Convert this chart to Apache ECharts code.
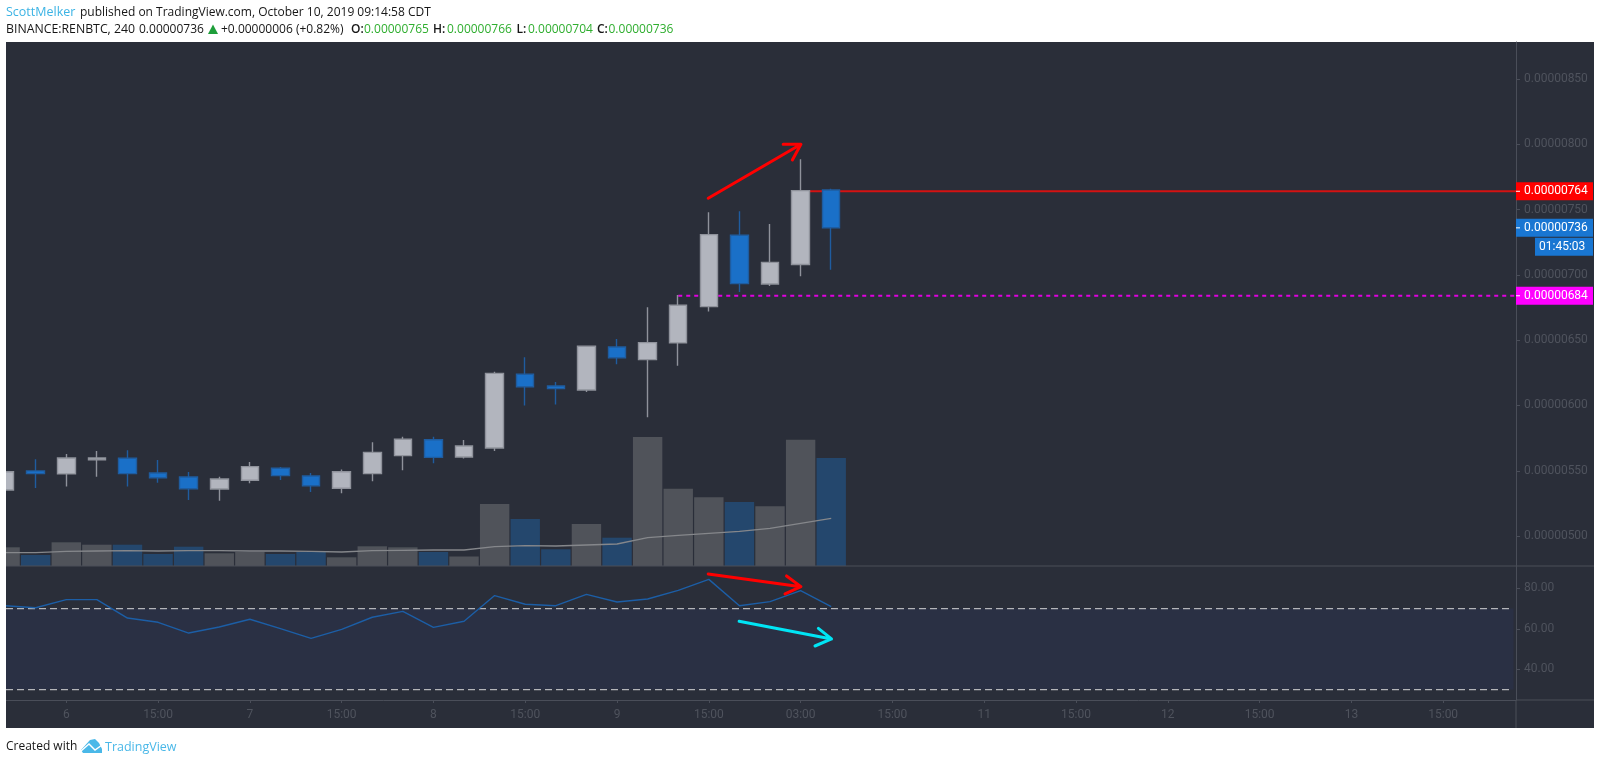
<!DOCTYPE html>
<html><head><meta charset="utf-8">
<style>html,body{margin:0;padding:0;background:#fff}#c{width:1600px;height:764px}</style>
<script src="https://cdn.jsdelivr.net/npm/echarts@6/dist/echarts.min.js"></script>
</head><body><div id="c"></div>
<script>
// bar position, counted in 4h bars from the "6" tick
const barIndex=[-2,-1,0,1,2,3,4,5,6,7,8,9,10,11,12,13,14,15,16,17,18,19,20,21,22,23,24,25];
// prices in 1e-8 BTC
const opens =[535.3,549.9,547.6,558.5,559.6,548.3,545.3,536.1,542.7,551.9,546,536.6,547.8,561.6,573.8,560.5,567.5,623.9,614.9,611.9,644.8,635.1,647.9,675.7,730.3,693,707.9,765];
const closes=[549.3,547.8,559.8,559.8,547.8,544.7,536.3,543.7,553.2,546.3,538.6,549.3,564.1,574.1,560.3,569,624.6,614.4,612.9,645.3,636.6,648.1,676.7,730.8,693.3,709.6,764.5,736];
const lows  =[535,536.8,537.9,545.5,537.9,540.9,527.7,527.1,540.4,543,533.8,532.8,541.9,550.4,555.7,559.4,565.2,599.9,600.7,610.4,631.5,591,630.5,671.9,686.9,691.5,698.9,704];
const highs =[550,558.8,562.9,565.2,565.7,558.3,549.1,545.5,556.7,552.9,548.3,550.9,571.8,576.1,576.1,573.6,625.9,636.9,618,645.3,650.9,675.2,684.6,747.9,748.7,739,788.5,766];
const volumes=[18.7,11,23.7,21.3,21.3,12,19.3,12.7,14,12,14,8.7,19.7,18.7,14,9.5,62,47,16.7,42,28.3,129,77.3,68.7,64,59.7,126.3,108];
const volumeMA=[13.3,13.3,14.7,15,15.3,15,15.3,15.3,15,15,14.7,14,15.3,15.7,16,16,19.3,20.3,20,21,22,28.3,30.7,32.7,34.7,37.7,42.7,47.7];
const rsi=[71.4,70.4,74.4,74.4,65.3,63.2,57.9,60.9,64.7,60.1,55.3,59.7,65.7,68.6,60.7,63.7,76.4,72.1,71.4,77,73.2,74.7,79,84.4,71.4,73.4,78.8,70.9];
const timeTicks=[0,3,6,9,12,15,18,21,24,27,30,33,36,39,42,45];
const timeLabels=['6','15:00','7','15:00','8','15:00','9','15:00','03:00','15:00','11','15:00','12','15:00','13','15:00'];
const priceTicks=[500,550,600,650,700,750,800,850];
const rsiTicks=[40,60,80];
const resistance=764, support=684, lastPrice=736;
const arrowUp=[[20.98,758.7],[24.01,800],[23.43,800],[24.01,800],[23.73,788]];
const arrowRsiRed=[[20.98,87.06],[24.01,80.8],[23.54,86.1],[24.01,80.8],[23.49,77.2]];
const arrowRsiCyan=[[21.99,63.7],[25.01,55],[24.58,60.2],[25.01,55],[24.47,51.5]];

const XMIN=-1.97,XMAX=47.38;
const UP='#b2b5be',UPB='#8f929b',DN='#1a70c8',DNB='#1f5c9f',AX='#4a4e59',TXT='#4f535d';
const chart=echarts.init(document.getElementById('c'),null,{renderer:'canvas'});
const FONT='Roboto';
const candle=barIndex.map((k,i)=>[k,opens[i],closes[i],lows[i],highs[i]]);
const pair=(arr)=>barIndex.map((k,i)=>[k,arr[i]]);
const volData=barIndex.map((k,i)=>({value:[k,volumes[i]],itemStyle:{color:closes[i]>=opens[i]?'#50535a':'#24476d'}}));
const arrow=(data,color,xi,yi)=>({type:'line',xAxisIndex:xi,yAxisIndex:yi,data,symbol:'none',z:8,silent:true,lineStyle:{color,width:3,cap:'round',join:'round'},animation:false});

chart.setOption({
 animation:false,backgroundColor:'#fff',
 grid:[{left:6,width:1510,top:42,height:524},{left:6,width:1510,top:566,height:134}],
 xAxis:[
  {type:'value',gridIndex:0,min:XMIN,max:XMAX,show:false,splitLine:{show:false}},
  {type:'value',gridIndex:1,min:XMIN,max:XMAX,splitLine:{show:false},
   axisLine:{show:true,onZero:false,lineStyle:{color:AX}},
   axisTick:{show:true,length:3,lineStyle:{color:AX},customValues:timeTicks},
   axisLabel:{color:TXT,fontFamily:FONT,fontSize:12,margin:9,customValues:timeTicks,showMinLabel:true,showMaxLabel:true,
     formatter:v=>timeLabels[timeTicks.indexOf(v)]||''}}
 ],
 yAxis:[
  {type:'value',gridIndex:0,position:'right',min:477.1,max:878.3,splitLine:{show:false},scale:true,
   axisLine:{show:true,onZero:false,lineStyle:{color:AX}},
   axisTick:{show:true,length:4,lineStyle:{color:AX},customValues:priceTicks},
   axisLabel:{color:TXT,fontFamily:FONT,fontSize:12,margin:8,customValues:priceTicks,formatter:v=>(v/1e8).toFixed(8)}},
  {type:'value',gridIndex:0,min:0,max:524,show:false,splitLine:{show:false}},
  {type:'value',gridIndex:1,position:'right',min:24.84,max:91,splitLine:{show:false},scale:true,
   axisLine:{show:true,onZero:false,lineStyle:{color:AX}},
   axisTick:{show:true,length:4,lineStyle:{color:AX},customValues:rsiTicks},
   axisLabel:{color:TXT,fontFamily:FONT,fontSize:12,margin:8,customValues:rsiTicks,formatter:v=>v.toFixed(2)}}
 ],
 series:[
  {type:'bar',name:'Volume',xAxisIndex:0,yAxisIndex:1,data:volData,barWidth:29.4,z:2,clip:true},
  {type:'line',name:'Volume MA',xAxisIndex:0,yAxisIndex:1,data:pair(volumeMA),symbol:'none',z:3,lineStyle:{color:'#85878b',width:1.3}},
  {type:'candlestick',name:'RENBTC',xAxisIndex:0,yAxisIndex:0,data:candle,encode:{x:0,y:[1,2,3,4]},barWidth:18,z:5,clip:true,
   itemStyle:{color:UP,color0:DN,borderColor:UPB,borderColor0:DNB,borderWidth:1.4}},
  {type:'line',name:'Resistance',xAxisIndex:0,yAxisIndex:0,data:[[24.01,resistance],[XMAX,resistance]],symbol:'none',z:4,lineStyle:{color:'#d41212',width:2}},
  {type:'line',name:'Support',xAxisIndex:0,yAxisIndex:0,data:[[20,support],[XMAX,support]],symbol:'none',z:4,lineStyle:{color:'#e000e0',width:2,type:[4,4]}},
  {type:'line',name:'RSI',xAxisIndex:1,yAxisIndex:2,data:pair(rsi),symbol:'none',z:5,lineStyle:{color:'#1c5ea6',width:1.4},
   markArea:{silent:true,itemStyle:{color:'#2a3044'},data:[[{xAxis:XMIN,yAxis:70},{xAxis:47.3,yAxis:30}]]}},
  {type:'line',name:'RSI upper',xAxisIndex:1,yAxisIndex:2,data:[[XMIN,70],[47.22,70]],symbol:'none',z:4,lineStyle:{color:'#b4b5b9',width:1.2,type:[7,4]}},
  {type:'line',name:'RSI lower',xAxisIndex:1,yAxisIndex:2,data:[[XMIN,30],[47.22,30]],symbol:'none',z:4,lineStyle:{color:'#b4b5b9',width:1.2,type:[7,4]}},
  arrow(arrowUp,'#ff0000',0,0),
  arrow(arrowRsiRed,'#ff0000',1,2),
  arrow(arrowRsiCyan,'#00e5f5',1,2)
 ]
});

const yPrice=v=>chart.convertToPixel({yAxisIndex:0},v);
function tag(v,color,extra){
 const y=yPrice(v);
 return [
  {type:'rect',z:20,shape:{x:1516,y:y-9,width:77,height:18},style:{fill:color}},
  {type:'line',z:21,shape:{x1:1516,y1:y,x2:1520,y2:y},style:{stroke:'#fff',lineWidth:1}},
  {type:'text',z:21,x:1524,y:y,style:{text:(v/1e8).toFixed(8),fill:'#fff',font:'12px '+FONT,textVerticalAlign:'middle'}}
 ];
}
const head=(x,y,text,fill,weight,size)=>({type:'text',z:30,x,y,style:{text,fill,font:(weight||'normal')+' '+(size||12)+'px "Open Sans"',textVerticalAlign:'middle'}});
const black='#161616',green='#2fae2f',by=29.5;
const t736=yPrice(lastPrice);
chart.setOption({graphic:{elements:[
 {type:'rect',z:-10,silent:true,shape:{x:6,y:42,width:1588,height:686},style:{fill:'#2a2e39'}},
 {type:'rect',z:15,silent:true,shape:{x:0,y:42,width:6,height:686},style:{fill:'#fff'}},
 {type:'line',z:10,shape:{x1:6,y1:566,x2:1594,y2:566},style:{stroke:AX}},
 {type:'line',z:1,shape:{x1:1516,y1:700,x2:1594,y2:700},style:{stroke:AX}},
 {type:'line',z:1,shape:{x1:1516,y1:700,x2:1516,y2:728},style:{stroke:AX}},
 ...tag(resistance,'#ff0000'),
 ...tag(lastPrice,'#1976d2'),
 ...tag(support,'#ff00ff'),
 {type:'rect',z:20,shape:{x:1535,y:t736+10,width:58,height:18},style:{fill:'#1976d2'}},
 {type:'text',z:21,x:1539,y:t736+19,style:{text:'01:45:03',fill:'#fff',font:'12px '+FONT,textVerticalAlign:'middle'}},
 head(6,12.5,'ScottMelker','#3bb3e4',null,12.5),
 head(80,12.5,'published on TradingView.com, October 10, 2019 09:14:58 CDT',black),
 head(6,by,'BINANCE:RENBTC, 240',black,null,12.3),
 head(139,by,'0.00000736',black),
 {type:'polygon',z:30,shape:{points:[[208,34],[218,34],[213,24.5]]},style:{fill:'#1e9e3a'}},
 head(221,by,'+0.00000006 (+0.82%)',black),
 head(351,by,'O:',black,'600'),head(364,by,'0.00000765',green),
 head(433,by,'H:',black,'600'),head(447,by,'0.00000766',green),
 head(516.5,by,'L:',black,'600'),head(528,by,'0.00000704',green),
 head(597,by,'C:',black,'600'),head(608.5,by,'0.00000736',green),
 {type:'text',z:30,x:6,y:747,style:{text:'Created with',fill:black,font:'12px "Open Sans"',textVerticalAlign:'middle'}},
 {type:'polygon',z:30,shape:{points:[[81,750],[90,740],[95,739],[99,743],[102,749],[102,753],[83,753]]},style:{fill:'#4ab8e8'}},
 {type:'polyline',z:31,shape:{points:[[81,751],[89,744],[95,750],[102,745]]},style:{stroke:'#fff',lineWidth:1.4,fill:'none'}},
 {type:'text',z:30,x:105,y:747,style:{text:'TradingView',fill:'#4ab8e8',font:'12.5px "Open Sans"',textVerticalAlign:'middle'}}
]}});
</script></body></html>
